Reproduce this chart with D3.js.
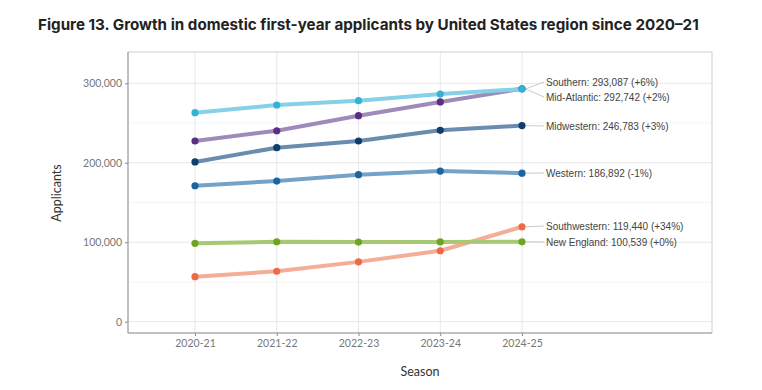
<!DOCTYPE html>
<html>
<head>
<meta charset="utf-8">
<script src="https://cdn.jsdelivr.net/npm/d3@7"></script>
<style>
  body { margin: 0; background: #fff; }
</style>
</head>
<body>
<script>
// values
var seasons = ["2020-21", "2021-22", "2022-23", "2023-24", "2024-25"];
var regions = ["Southern", "Mid-Atlantic", "Midwestern", "Western", "Southwestern", "New England"];
var southern     = [227400, 240300, 259200, 276500, 293087];
var midAtlantic  = [263000, 272700, 278100, 286500, 292742];
var midwestern   = [201000, 219000, 227400, 240800, 246783];
var western      = [171100, 177000, 185000, 189600, 186892];
var southwestern = [56600, 63500, 75300, 89300, 119440];
var newEngland   = [98600, 100600, 100200, 100400, 100539];
var endLabels = ["Southern: 293,087 (+6%)", "Mid-Atlantic: 292,742 (+2%)", "Midwestern: 246,783 (+3%)",
                 "Western: 186,892 (-1%)", "Southwestern: 119,440 (+34%)", "New England: 100,539 (+0%)"];
var yTicks = [0, 100000, 200000, 300000];

var seriesValues = [southern, midAtlantic, midwestern, western, southwestern, newEngland];
var lineColors  = ["#9f8ab9", "#84d1e8", "#6a8cae", "#74a2c9", "#f5ad97", "#a8c874"];
var pointColors = ["#5b2e86", "#34b2d6", "#0f3d6e", "#1b64a0", "#ef6a44", "#6ca523"];
var labelY = [82, 97, 126, 173, 226, 242];

var W = 762, H = 390;
var panel = {left: 128, right: 712, top: 52, bottom: 333};

var svg = d3.select("body").append("svg")
    .attr("width", W)
    .attr("height", H);

// title
svg.append("text")
    .attr("x", 38)
    .attr("y", 30)
    .style("font-family", "Inter, 'Open Sans', sans-serif")
    .style("font-weight", "700")
    .style("font-size", "15.2px")
    .attr("fill", "#222")
    .text("Figure 13. Growth in domestic first-year applicants by United States region since 2020\u201321");

//scales
var x = d3.scalePoint().domain(seasons).range([195, 522]);
var y = d3.scaleLinear().domain([0, 300000]).range([321.7, 83.3]);

// grid
var minor = [50000, 150000, 250000];
svg.selectAll(".minor").data(minor).enter().append("line")
    .attr("x1", panel.left).attr("x2", panel.right)
    .attr("y1", d => y(d)).attr("y2", d => y(d))
    .attr("stroke", "#f3f3f3").attr("stroke-width", 0.8);
svg.selectAll(".major").data(yTicks).enter().append("line")
    .attr("x1", panel.left).attr("x2", panel.right)
    .attr("y1", d => y(d)).attr("y2", d => y(d))
    .attr("stroke", "#e8e8e8").attr("stroke-width", 1);
svg.selectAll(".vgrid").data(seasons).enter().append("line")
    .attr("x1", d => x(d)).attr("x2", d => x(d))
    .attr("y1", panel.top).attr("y2", panel.bottom)
    .attr("stroke", "#e8e8e8").attr("stroke-width", 1);

// panel border
svg.append("rect")
    .attr("x", panel.left).attr("y", panel.top)
    .attr("width", panel.right - panel.left).attr("height", panel.bottom - panel.top)
    .attr("fill", "none").attr("stroke", "#cfcfcf").attr("stroke-width", 1);

// axes
var xAxis = svg.append("g")
    .attr("transform", "translate(0," + panel.bottom + ")")
    .call(d3.axisBottom(x).tickSize(3).tickPadding(4));
var yAxis = svg.append("g")
    .attr("transform", "translate(" + panel.left + ",0)")
    .call(d3.axisLeft(y).tickValues(yTicks).tickFormat(d3.format(",")).tickSize(3).tickPadding(3));
[xAxis, yAxis].forEach(function(g) {
    g.select(".domain").remove();
    g.selectAll(".tick line").attr("stroke", "#888");
    g.selectAll("text")
        .style("font-family", "Lato, 'Open Sans', sans-serif")
        .style("font-size", "10.5px")
        .attr("fill", "#777");
});
svg.append("line")
    .attr("x1", panel.left).attr("x2", panel.left)
    .attr("y1", panel.top).attr("y2", panel.bottom)
    .attr("stroke", "#999");
svg.append("line")
    .attr("x1", panel.left).attr("x2", panel.right)
    .attr("y1", panel.bottom).attr("y2", panel.bottom)
    .attr("stroke", "#999");

// axis titles
svg.append("text")
    .attr("transform", "translate(61,193) rotate(-90)")
    .attr("text-anchor", "middle")
    .style("font-family", "Lato, 'Open Sans', sans-serif")
    .style("font-size", "12.5px")
    .attr("fill", "#333")
    .text("Applicants");
svg.append("text")
    .attr("x", 420)
    .attr("y", 376)
    .attr("text-anchor", "middle")
    .style("font-family", "Lato, 'Open Sans', sans-serif")
    .style("font-size", "12.5px")
    .attr("fill", "#333")
    .text("Season");

// lines and points
var line = d3.line()
    .x((d, i) => x(seasons[i]))
    .y(d => y(d));

seriesValues.forEach(function(vals, k) {
    svg.append("path")
        .datum(vals)
        .attr("d", line)
        .attr("fill", "none")
        .attr("stroke", lineColors[k])
        .attr("stroke-width", 4)
        .attr("stroke-linejoin", "round")
        .attr("stroke-linecap", "round");
});
seriesValues.forEach(function(vals, k) {
    svg.selectAll(".pt" + k).data(vals).enter().append("circle")
        .attr("cx", (d, i) => x(seasons[i]))
        .attr("cy", d => y(d))
        .attr("r", 3.6)
        .attr("fill", pointColors[k]);
});

// end labels with connectors
var lastX = x(seasons[seasons.length - 1]);
seriesValues.forEach(function(vals, k) {
    var yEnd = y(vals[vals.length - 1]);
    svg.append("line")
        .attr("x1", lastX + 4).attr("y1", yEnd)
        .attr("x2", 544).attr("y2", labelY[k])
        .attr("stroke", "#bdbdbd").attr("stroke-width", 0.8);
    svg.append("text")
        .attr("x", 546)
        .attr("y", labelY[k])
        .attr("dy", "0.35em")
        .style("font-family", "'Liberation Sans', Arial, sans-serif")
        .style("font-size", "10px")
        .attr("fill", "#444")
        .text(endLabels[k]);
});
</script>
</body>
</html>
